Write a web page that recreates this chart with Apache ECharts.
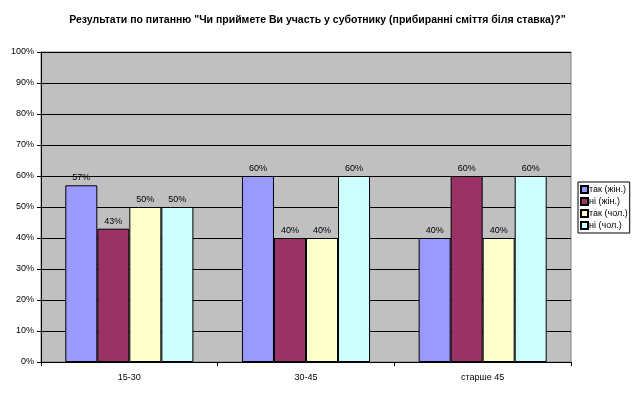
<!DOCTYPE html>
<html>
<head>
<meta charset="utf-8">
<script src="https://cdn.jsdelivr.net/npm/echarts@6/dist/echarts.min.js"></script>
<style>html,body{margin:0;padding:0;background:#fff}#c{width:635px;height:394px}</style>
</head>
<body>
<div id="c"></div>
<script>
var titleText = 'Результати по питанню "Чи приймете Ви участь у суботнику (прибиранні сміття біля ставка)?"';
var categories = ['15-30', '30-45', 'старше 45'];
var seriesNames = ['так (жін.)', 'ні (жін.)', 'так (чол.)', 'ні (чол.)'];
var takZhin = [57, 60, 40];
var niZhin = [43, 40, 60];
var takChol = [50, 40, 40];
var niChol = [50, 60, 60];
var colors = ['#9999FF', '#993366', '#FFFFCC', '#CCFFFF'];

var values = [takZhin, niZhin, takChol, niChol];
var font = '"Liberation Sans", Arial, sans-serif';
var chart = echarts.init(document.getElementById('c'), null, {renderer: 'canvas'});
var series = seriesNames.map(function (n, i) {
  return {
    name: n,
    type: 'bar',
    data: values[i],
    barGap: '0%',
    barCategoryGap: '27.5%',
    itemStyle: {color: colors[i], borderColor: '#000', borderWidth: 1},
    label: {show: true, position: 'top', distance: 3, formatter: '{c}%', fontSize: 9, color: '#000', fontFamily: font},
    emphasis: {disabled: true}
  };
});
chart.setOption({
  animation: false,
  backgroundColor: '#fff',
  title: {
    text: titleText, left: 'center', top: 10,
    textStyle: {fontSize: 10.5, fontWeight: 'bold', color: '#000', fontFamily: font}
  },
  legend: {
    orient: 'vertical', left: 578, top: 182,
    itemWidth: 7, itemHeight: 7, itemGap: 3,
    padding: [3, 2, 3, 2],
    borderColor: '#000', borderWidth: 1,
    icon: 'rect',
    textStyle: {fontSize: 9, color: '#000', fontFamily: font, padding: [0, 0, 0, -4]},
    data: seriesNames
  },
  grid: {
    left: 41, right: 64, top: 52, bottom: 32,
    show: true, backgroundColor: '#C0C0C0', borderColor: '#808080', borderWidth: 1
  },
  xAxis: {
    type: 'category', data: categories,
    axisLine: {lineStyle: {color: '#000', width: 1}},
    axisTick: {show: true, alignWithLabel: false, length: 4, lineStyle: {color: '#000'}},
    axisLabel: {fontSize: 9, color: '#000', margin: 11, fontFamily: font}
  },
  yAxis: {
    type: 'value', min: 0, max: 100, interval: 10,
    axisLine: {show: true, lineStyle: {color: '#000', width: 1}},
    axisTick: {show: true, length: 4, lineStyle: {color: '#000'}},
    axisLabel: {fontSize: 9, color: '#000', margin: 7, formatter: '{value}%', fontFamily: font},
    splitLine: {show: true, lineStyle: {color: '#000', width: 1}}
  },
  series: series
});
</script>
</body>
</html>
